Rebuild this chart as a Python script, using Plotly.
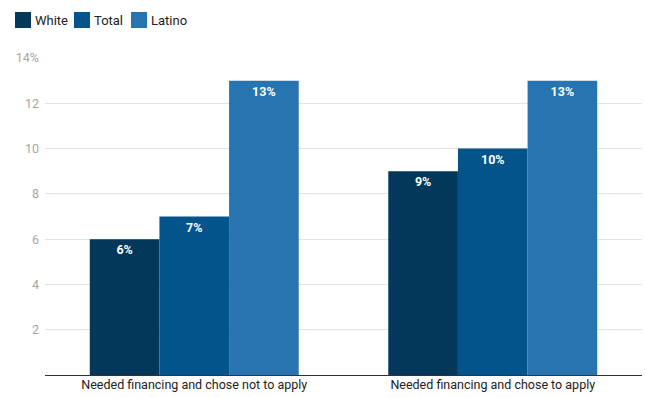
import plotly.graph_objects as go

categories = ["Needed financing and chose not to apply", "Needed financing and chose to apply"]
white = [6, 9]
total = [7, 10]
latino = [13, 13]
series_names = ["White", "Total", "Latino"]
colors = ["#03385b", "#03548a", "#2874b0"]
tick_vals = [2, 4, 6, 8, 10, 12, 14]
tick_text = ["2", "4", "6", "8", "10", "12", "14%"]

W, H = 646, 397
ML, MR, MT, MB = 45, 4, 58, 22
PW, PH = W - ML - MR, H - MT - MB

def px_x(p):
    return (p - ML) / PW

def px_y(p):
    return (H - MB - p) / PH

fig = go.Figure()
for name, vals, col in zip(series_names, [white, total, latino], colors):
    fig.add_trace(go.Bar(
        x=categories, y=vals, name=name, marker=dict(color=col, line=dict(width=0)),
        text=[f"{v}%" for v in vals], textposition="inside", insidetextanchor="end",
        textfont=dict(color="white", size=12.5, family="Roboto", weight="bold"),
        textangle=0, showlegend=False,
    ))

# manual legend (square swatches + labels)
legend_x = [15, 74, 131]
for name, col, lx in zip(series_names, colors, legend_x):
    fig.add_shape(type="rect", xref="paper", yref="paper",
                  x0=px_x(lx), x1=px_x(lx + 16), y0=px_y(28), y1=px_y(12),
                  fillcolor=col, line=dict(width=0))
    fig.add_annotation(xref="paper", yref="paper", x=px_x(lx + 17.5), y=px_y(20),
                       xanchor="left", yanchor="middle", text=name, showarrow=False,
                       font=dict(size=13, color="#222", family="Roboto"))

fig.update_layout(
    width=W, height=H,
    margin=dict(l=ML, r=MR, t=MT, b=MB),
    barmode="group", bargap=0.3, bargroupgap=0,
    plot_bgcolor="white", paper_bgcolor="white",
    font=dict(family="Roboto", size=12, color="#222"),
    showlegend=False,
    xaxis=dict(showgrid=False, showline=False, ticks="", tickfont=dict(size=12.5, color="#222")),
    yaxis=dict(range=[0, 14], tickvals=tick_vals, ticktext=tick_text, showgrid=True,
               gridcolor="#e3e3e3", gridwidth=1, zeroline=True, zerolinecolor="#333",
               zerolinewidth=1, tickfont=dict(size=12.5, color="#a6a6a6"), ticks="", ticklen=0,
               ticklabelstandoff=5),
)
fig.write_html("out.html")
